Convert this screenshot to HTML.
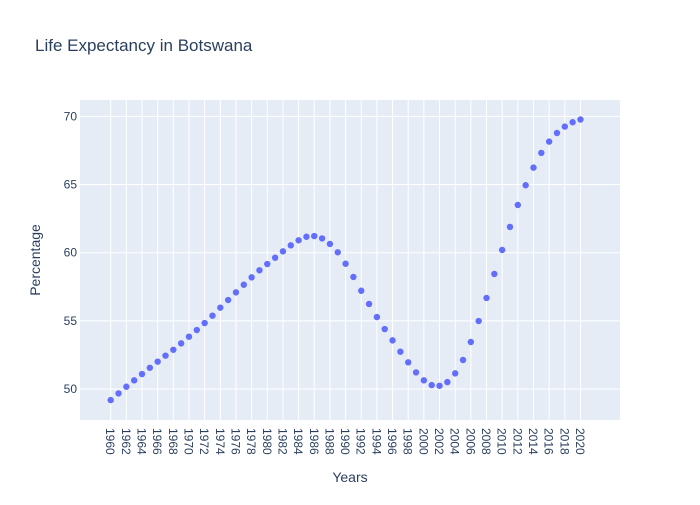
<!DOCTYPE html>
<html><head><meta charset="utf-8"><style>
body{margin:0;background:#fff;}
svg text{font-family:"Liberation Sans",Arial,sans-serif;fill:#2a3f5f;}
</style></head><body>
<svg id="chart" width="700" height="500" xmlns="http://www.w3.org/2000/svg">
<rect width="700" height="500" fill="#fff"/>
<text x="35" y="51" font-size="17">Life Expectancy in Botswana</text>
<rect x="80" y="100" width="540" height="320" fill="#e5ecf6"/>
<g id="grid"></g>
<g id="points"></g>
<g id="xticks"></g>
<g id="yticks"></g>
<text x="350" y="482" font-size="14" text-anchor="middle">Years</text>
<text transform="translate(40,260) rotate(-90)" font-size="14" text-anchor="middle">Percentage</text>
</svg>
<script>
const years = [];
for (let y = 1960; y <= 2020; y++) years.push(y);
const lifeExpectancy = [49.19,49.68,50.17,50.64,51.10,51.56,52.01,52.45,52.88,53.35,53.84,54.33,54.84,55.38,55.97,56.53,57.09,57.65,58.19,58.71,59.17,59.63,60.10,60.54,60.91,61.17,61.22,61.05,60.64,60.03,59.19,58.22,57.21,56.24,55.28,54.40,53.57,52.74,51.96,51.22,50.64,50.29,50.24,50.51,51.15,52.13,53.45,54.99,56.68,58.44,60.20,61.89,63.50,64.95,66.24,67.32,68.15,68.78,69.25,69.57,69.77];
const yTickValues = [50,55,60,65,70];
const xTickValues = [];
for (let y = 1960; y <= 2020; y += 2) xTickValues.push(y);

const NS = "http://www.w3.org/2000/svg";
const L=80,R=620,T=100,B=420;
const xMin=1956.08,xMax=2025.05,yMin=47.73,yMax=71.2;
const xs = v => L + (v - xMin) / (xMax - xMin) * (R - L);
const ys = v => B - (v - yMin) / (yMax - yMin) * (B - T);
function mk(tag, attrs, parent){const e=document.createElementNS(NS,tag);for(const k in attrs)e.setAttribute(k,attrs[k]);parent.appendChild(e);return e;}
const grid=document.getElementById('grid');
xTickValues.forEach(v=>{
  const l=mk('line',{x1:xs(v),x2:xs(v),y1:T,y2:B,stroke:'#fff','stroke-width':1},grid);
  
  
  const g=document.getElementById('xticks');
  const t=mk('text',{transform:`translate(${xs(v)-4.5},${428}) rotate(90)`,'font-size':12},g);
  t.textContent=v;
  
  
});
yTickValues.forEach(v=>{
  const l=mk('line',{x1:L,x2:R,y1:ys(v),y2:ys(v),stroke:'#fff','stroke-width':1},grid);
  
  
  const t=mk('text',{x:77,y:ys(v)+4,'font-size':12,'text-anchor':'end'},document.getElementById('yticks'));
  t.textContent=v;
  
  
});
const pts=document.getElementById('points');
years.forEach((yr,i)=>{
  const c=mk('circle',{cx:xs(yr),cy:ys(lifeExpectancy[i]),r:3.2,fill:'#636efa'},pts);
  
  
});
</script>
</body></html>
